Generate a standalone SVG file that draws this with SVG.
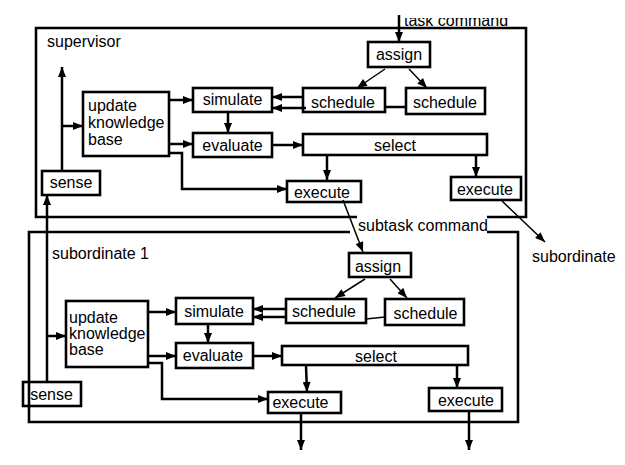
<svg xmlns="http://www.w3.org/2000/svg" width="625" height="465" viewBox="0 0 625 465">
<style>
.box{fill:none;stroke:#000;stroke-width:2.6}
.frame{fill:none;stroke:#000;stroke-width:2.6}
.c{fill:none;stroke:#000;stroke-width:2.5}
.t{fill:none;stroke:#000;stroke-width:1.5}
text{font-family:"Liberation Sans",Arial,sans-serif;font-size:16px;fill:#000}
.m{text-anchor:middle}
</style>
<defs>
<marker id="a" viewBox="0 0 10 8" refX="10" refY="4" markerWidth="11" markerHeight="8" markerUnits="userSpaceOnUse" orient="auto">
<path d="M0,0 L10,4 L0,8 z" fill="#000"/>
</marker>
<clipPath id="topclip"><rect x="0" y="18" width="625" height="30"/></clipPath>
</defs>
<rect width="625" height="465" fill="#fff"/>

<g id="supervisor">
<path class="frame" d="M357,217 H36 V28 H526 V217 H487"/>
<text x="47" y="47">supervisor</text>
</g>
<g id="subordinate1">
<path class="frame" d="M350,232 H29 V422 H518 V232 H487"/>
<text x="52" y="259">subordinate 1</text>
</g>

<g id="task-command"><text x="404" y="26" clip-path="url(#topclip)">task command</text></g>
<g id="subtask-command"><text x="358" y="231">subtask command</text></g>
<g id="subordinate-label"><text x="532" y="262">subordinate</text></g>

<!-- supervisor nodes -->
<g id="s-assign"><rect class="box" x="368" y="42" width="62" height="25"/><text class="m" x="399" y="60">assign</text></g>
<g id="s-schedule1"><rect class="box" x="303" y="88" width="82" height="24"/><text class="m" x="343" y="108">schedule</text></g>
<g id="s-schedule2"><rect class="box" x="406" y="88" width="79" height="26"/><text class="m" x="445" y="108">schedule</text></g>
<g id="s-update"><rect class="box" x="83" y="92" width="86" height="64"/><text x="88" y="111">update</text><text x="88" y="128">knowledge</text><text x="88" y="145">base</text></g>
<g id="s-simulate"><rect class="box" x="193" y="88" width="79" height="24"/><text class="m" x="232.5" y="105">simulate</text></g>
<g id="s-evaluate"><rect class="box" x="193" y="133" width="79" height="24"/><text class="m" x="232.5" y="151">evaluate</text></g>
<g id="s-select"><rect class="box" x="303" y="134" width="184" height="21"/><text class="m" x="395" y="151">select</text></g>
<g id="s-execute1"><rect class="box" x="287" y="181" width="74" height="21"/><text class="m" x="322" y="198">execute</text></g>
<g id="s-execute2"><rect class="box" x="451" y="177" width="70" height="23"/><text class="m" x="485" y="195">execute</text></g>
<g id="s-sense"><rect class="box" x="42" y="171" width="58" height="24"/><text class="m" x="71" y="188">sense</text></g>

<!-- subordinate nodes -->
<g id="b-assign"><rect class="box" x="349" y="253" width="62" height="24"/><text class="m" x="378" y="272">assign</text></g>
<g id="b-schedule1"><rect class="box" x="286" y="299" width="80" height="24"/><text class="m" x="324" y="317">schedule</text></g>
<g id="b-schedule2"><rect class="box" x="385" y="299" width="79" height="26"/><text class="m" x="425.5" y="319">schedule</text></g>
<g id="b-update"><rect class="box" x="66" y="301" width="82" height="66"/><text x="69" y="323">update</text><text x="69" y="339">knowledge</text><text x="69" y="355">base</text></g>
<g id="b-simulate"><rect class="box" x="176" y="298" width="77" height="26"/><text class="m" x="214" y="317">simulate</text></g>
<g id="b-evaluate"><rect class="box" x="176" y="343" width="77" height="25"/><text class="m" x="213" y="361">evaluate</text></g>
<g id="b-select"><rect class="box" x="282" y="346" width="186" height="19"/><text class="m" x="376" y="362">select</text></g>
<g id="b-execute1"><rect class="box" x="268" y="392" width="73" height="21"/><text class="m" x="300.5" y="408">execute</text></g>
<g id="b-execute2"><rect class="box" x="429" y="388" width="73" height="23"/><text class="m" x="466" y="406">execute</text></g>
<g id="b-sense"><rect class="box" x="23" y="382" width="58" height="24"/><text class="m" x="51.5" y="400">sense</text></g>

<g id="connectors">
<path class="c" d="M399,15 V42" marker-end="url(#a)"/>
<path class="t" d="M385,69 L357,88" marker-end="url(#a)"/>
<path class="t" d="M409,69 L427,88" marker-end="url(#a)"/>
<path class="c" d="M385,107 H406"/>
<path class="c" d="M303,97 H272" marker-end="url(#a)"/>
<path class="c" d="M306,108 H272" marker-end="url(#a)"/>
<path class="c" d="M169,100 H193" marker-end="url(#a)"/>
<path class="c" d="M228,112 V133" marker-end="url(#a)"/>
<path class="c" d="M169,144 H193" marker-end="url(#a)"/>
<path class="c" d="M169,153 H182 V189 H287" marker-end="url(#a)"/>
<path class="c" d="M272,145 H303" marker-end="url(#a)"/>
<path class="c" d="M327,155 V180" marker-end="url(#a)"/>
<path class="c" d="M476,155 V177" marker-end="url(#a)"/>
<path class="t" d="M502,201 L545,242" marker-end="url(#a)"/>
<path class="t" d="M343,200 L363,252" marker-end="url(#a)"/>
<path class="c" d="M62,171 V67" marker-end="url(#a)"/>
<path class="c" d="M62,126 H83" marker-end="url(#a)"/>
<path class="c" d="M47,382 V195" marker-end="url(#a)"/>

<path class="t" d="M365,279 L335,298" marker-end="url(#a)"/>
<path class="t" d="M390,279 L407,298" marker-end="url(#a)"/>
<path class="t" d="M366,319 L385,317"/>
<path class="c" d="M286,309 H253" marker-end="url(#a)"/>
<path class="c" d="M286,317 H253" marker-end="url(#a)"/>
<path class="c" d="M148,312 H176" marker-end="url(#a)"/>
<path class="c" d="M208,324 V343" marker-end="url(#a)"/>
<path class="c" d="M148,356 H176" marker-end="url(#a)"/>
<path class="c" d="M148,363 H162 V399 H268" marker-end="url(#a)"/>
<path class="c" d="M253,356 H282" marker-end="url(#a)"/>
<path class="c" d="M306,366 L307,392" marker-end="url(#a)"/>
<path class="c" d="M457,365 V388" marker-end="url(#a)"/>
<path class="c" d="M301,413 V450" marker-end="url(#a)"/>
<path class="c" d="M469,411 V450" marker-end="url(#a)"/>
<path class="c" d="M47,336 H66" marker-end="url(#a)"/>
</g>
</svg>
